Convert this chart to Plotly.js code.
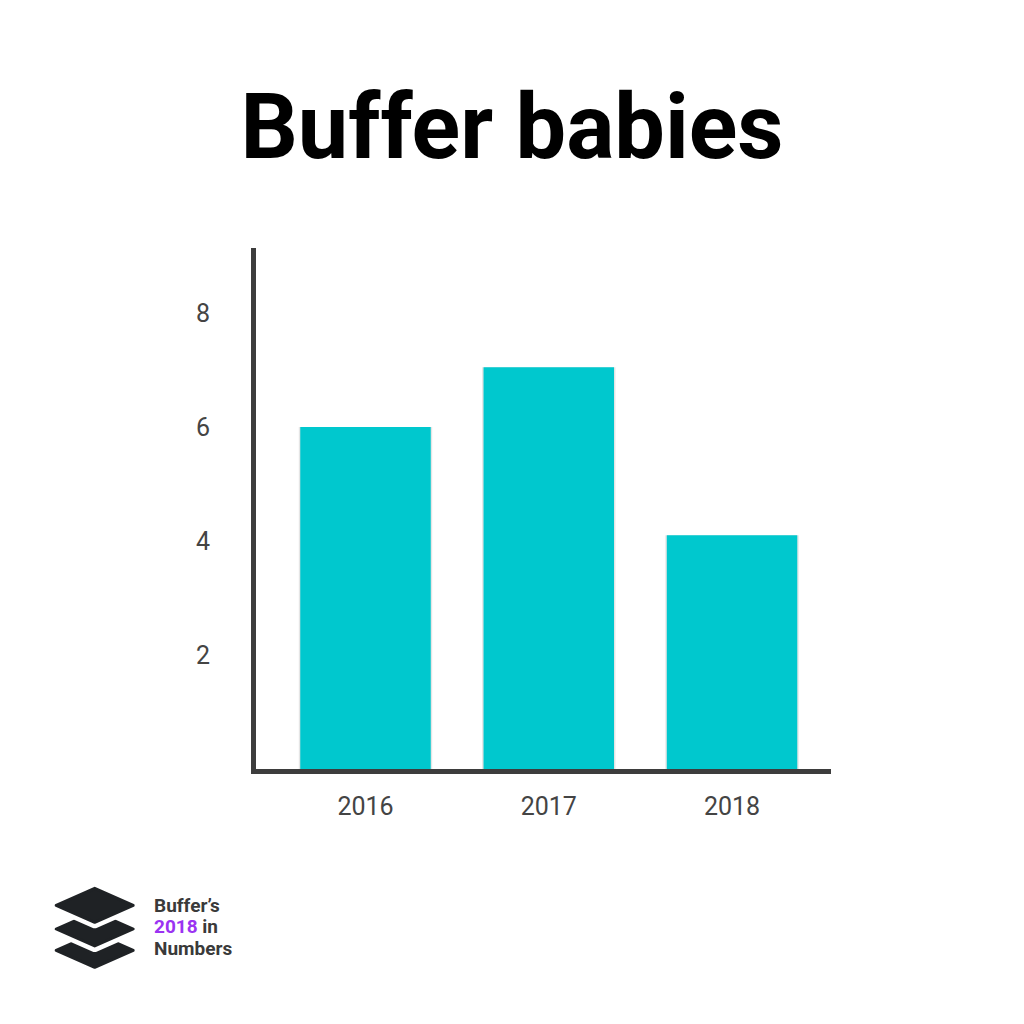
<!DOCTYPE html>
<html>
<head>
<meta charset="utf-8">
<script src="https://cdn.plot.ly/plotly-3.0.1.min.js"></script>
<style>
  html, body { margin: 0; padding: 0; background: #ffffff; }
  #chart { width: 1024px; height: 1024px; }
</style>
</head>
<body>
<div id="chart"></div>
<script>
// ---- data ----
const years = ['2016', '2017', '2018'];
const babies = [6.0, 7.05, 4.1];
const yTickValues = [2, 4, 6, 8];
const yTickLabels = ['2', '4', '6', '8'];
const titleText = 'Buffer babies';
const logoLines = ['Buffer\u2019s', '<span style="color:#9b33f2">2018</span> in', 'Numbers'];

// ---- layout helpers (pixel -> paper) ----
const W = 1024, H = 1024;
const M = { l: 256, r: 193, t: 248, b: 255 };
const PW = W - M.l - M.r, PH = H - M.t - M.b;
const px = x => (x - M.l) / PW;
const py = y => (H - M.b - y) / PH;

// logo icon as inline svg
function diamond(cx, cy, hw, hh) {
  return `${cx - hw},${cy} ${cx},${cy - hh} ${cx + hw},${cy} ${cx},${cy + hh}`;
}
const dark = '#1f2225';
const cx = 94.7, hw = 38.5, hh = 17;
const cys = [950.3, 929.0, 905.3];
let svg = `<svg xmlns="http://www.w3.org/2000/svg" width="90" height="95" viewBox="50 880 90 95">`;
cys.forEach((cy, i) => {
  if (i > 0) {
    svg += `<polygon points="${diamond(cx, cy, hw, hh)}" fill="#fff" stroke="#fff" stroke-width="12" stroke-linejoin="round"/>`;
  }
  svg += `<polygon points="${diamond(cx, cy, hw, hh)}" fill="${dark}" stroke="${dark}" stroke-width="3" stroke-linejoin="round"/>`;
});
svg += `</svg>`;
const iconSrc = 'data:image/svg+xml;charset=utf-8,' + encodeURIComponent(svg);

const shadow = {
  type: 'bar', x: years, y: babies, width: 0.728,
  marker: { color: 'rgba(0,0,0,0.10)', line: { width: 0 } },
  hoverinfo: 'skip', showlegend: false
};
const bars = {
  type: 'bar', x: years, y: babies, width: 0.712,
  marker: { color: '#00c8ce', line: { width: 0 } },
  showlegend: false
};

const tickFont = { family: 'Roboto, sans-serif', size: 25, color: '#444444' };

const layout = {
  width: W, height: H,
  margin: M,
  paper_bgcolor: '#ffffff', plot_bgcolor: '#ffffff',
  barmode: 'overlay',
  title: {
    text: titleText,
    font: { family: 'Roboto, sans-serif', size: 90, color: '#000000', weight: 700 },
    x: 0.5, xref: 'container', xanchor: 'center',
    y: 1 - 126.5 / H, yref: 'container', yanchor: 'middle'
  },
  xaxis: {
    type: 'category',
    range: [-0.5975, 2.54],
    showline: true, linecolor: '#3d3d3d', linewidth: 5,
    showgrid: false, zeroline: false, ticks: '',
    tickfont: tickFont, ticklabelstandoff: 11,
    fixedrange: true
  },
  yaxis: {
    range: [0, 9.14],
    showline: true, linecolor: '#3d3d3d', linewidth: 5,
    showgrid: false, zeroline: false, ticks: '',
    tickvals: yTickValues, ticktext: yTickLabels,
    tickfont: tickFont, ticklabelstandoff: 36,
    fixedrange: true
  },
  images: [{
    source: iconSrc, xref: 'paper', yref: 'paper',
    x: px(50), y: py(880), sizex: 90 / PW, sizey: 95 / PH,
    xanchor: 'left', yanchor: 'top', sizing: 'stretch', layer: 'above'
  }],
  annotations: logoLines.map((t, i) => ({
    text: t, showarrow: false, xref: 'paper', yref: 'paper',
    x: px(152), y: py([905, 926.7, 948.3][i]),
    xanchor: 'left', yanchor: 'middle',
    font: { family: 'Roboto, sans-serif', size: 19, color: '#3a3a3a', weight: 700 }
  }))
};

Plotly.newPlot('chart', [shadow, bars], layout, { displayModeBar: false, staticPlot: true });
</script>
</body>
</html>
